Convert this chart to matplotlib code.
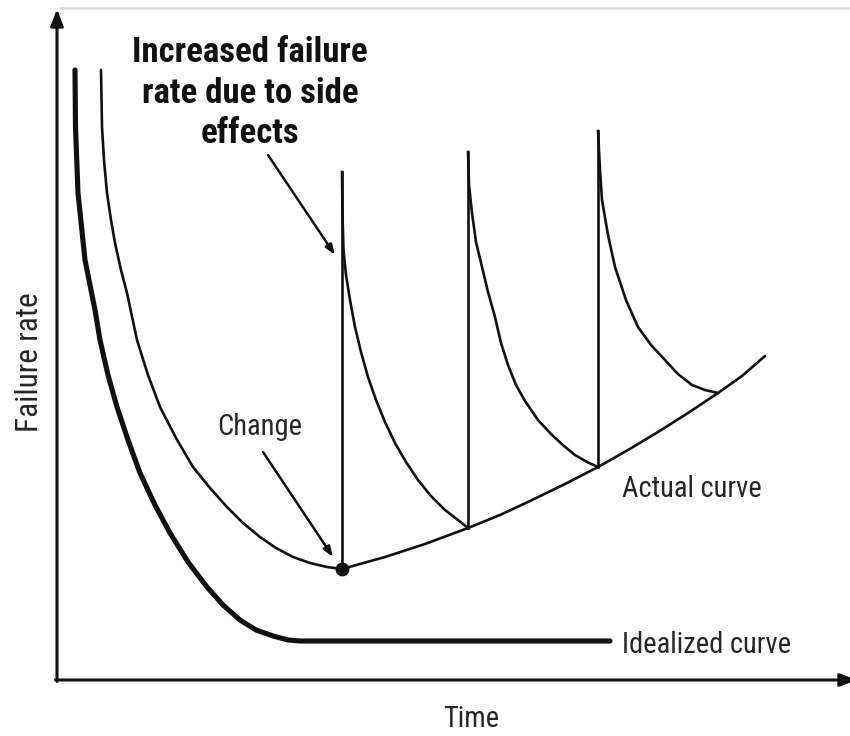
import matplotlib
matplotlib.use("Agg")
import matplotlib.pyplot as plt
from matplotlib import font_manager as fm

# ---- data: time (x) and failure rate (y) in arbitrary units ----
ideal_t = [18, 18.5, 21, 28, 38, 43, 51, 60, 71, 83, 98, 113, 131, 150, 166, 183, 199, 216, 231, 243, 553]
ideal_r = [610, 553, 487, 420, 370, 340, 305, 273, 240, 207, 175, 147, 118, 93, 75, 60, 50, 44, 40, 39, 39]

early_t = [44, 45, 47, 50, 54, 58, 64, 70, 80, 91, 103, 119, 136, 153, 170, 186, 203, 219, 236, 253, 270, 285]
early_r = [610, 553, 520, 487, 460, 437, 410, 387, 340, 305, 273, 242, 213, 192, 173, 157, 143, 132, 123, 117, 113, 111]

base_t = [285, 328, 368, 411, 443, 473, 508, 541, 571, 601, 631, 661, 685, 708]
base_r = [111, 123, 136, 152, 165, 179, 196, 213, 230, 248, 267, 287, 304, 324]

change_t = [285, 411, 541]
spike_bottom = [111, 152, 213]
spike_top = [508, 528, 549]

decay1_t = [285, 285.5, 286.5, 289, 293, 298, 304, 311, 319, 328, 338, 349, 361, 374, 388, 401, 411]
decay1_r = [508, 465, 430, 405, 380, 353, 328, 303, 280, 258, 237, 218, 200, 184, 170, 160, 152]
decay2_t = [411, 412, 415, 419, 425, 431, 438, 444, 451, 459, 468, 481, 495, 507, 518, 530, 541]
decay2_r = [528, 495, 467, 438, 413, 388, 363, 337, 315, 295, 279, 260, 245, 234, 225, 218, 213]
decay3_t = [541, 543, 545, 551, 558, 569, 581, 594, 608, 621, 635, 648, 661]
decay3_r = [549, 510, 480, 445, 413, 380, 353, 335, 320, 306, 295, 290, 287]

title_lines = ["Increased failure", "rate due to side", "effects"]
label_change = "Change"
label_actual = "Actual curve"
label_ideal = "Idealized curve"
xlabel = "Time"
ylabel = "Failure rate"

# ---- pick a narrow sans family if one is installed ----
candidates = [('Liberation Sans Narrow', 'normal'), ('Roboto Condensed', 'normal'),
              ('Open Sans Condensed', 'normal'), ('DejaVu Sans', 'condensed'),
              ('Roboto', 'condensed'), ('Open Sans', 'condensed')]
chosen = None
for fam, st in candidates:
    try:
        p = fm.findfont(fm.FontProperties(family=fam, stretch=st), fallback_to_default=False)
    except Exception:
        continue
    if st == 'normal' or 'ondensed' in p or 'arrow' in p:
        chosen = (fam, st)
        break
if chosen is None:
    chosen = ('Roboto', 'normal')
family, stretch = chosen
plt.rcParams['font.family'] = [family, 'DejaVu Sans']

# ---- drawing ----
fig = plt.figure(figsize=(8.5, 7.36), dpi=100)
ax = fig.add_axes([57 / 850, 56 / 736, 788 / 850, 665 / 736])
ax.set_xlim(0, 788)
ax.set_ylim(0, 665)
ax.axis('off')

ink = '#111111'
txt = '#262626'

# screenshot border line at top
ax.plot([3, 800], [672, 672], color='#d9d9d9', lw=1.8, clip_on=False)

# axis arrows
head = '-|>,head_length=1.0,head_width=0.38'
ax.annotate('', xy=(0, 671), xytext=(0, -1.5),
            arrowprops=dict(arrowstyle=head, lw=2.2, color=ink, shrinkA=0, shrinkB=0),
            annotation_clip=False)
ax.annotate('', xy=(800, 0), xytext=(-1.5, 0),
            arrowprops=dict(arrowstyle=head, lw=2.2, color=ink, shrinkA=0, shrinkB=0),
            annotation_clip=False)

# idealized curve
ax.plot(ideal_t, ideal_r, color=ink, lw=3.7, solid_capstyle='round', solid_joinstyle='round', clip_on=False)

# actual curve
lw = 1.9
ax.plot(early_t, early_r, color=ink, lw=lw, solid_joinstyle='round', solid_capstyle='round', clip_on=False)
ax.plot(base_t, base_r, color=ink, lw=lw, solid_joinstyle='round', solid_capstyle='round', clip_on=False)
for t, lo, hi in zip(change_t, spike_bottom, spike_top):
    ax.plot([t, t], [lo, hi], color=ink, lw=lw, clip_on=False)
for dt, dr in ((decay1_t, decay1_r), (decay2_t, decay2_r), (decay3_t, decay3_r)):
    ax.plot(dt, dr, color=ink, lw=lw, solid_joinstyle='round', clip_on=False)

ax.plot([change_t[0]], [spike_bottom[0]], 'o', color=ink, markersize=9, clip_on=False)

# annotations
small_head = '-|>,head_length=0.6,head_width=0.22'
ax.annotate('', xy=(278, 425), xytext=(211, 525),
            arrowprops=dict(arrowstyle=small_head, lw=1.8, color=ink, shrinkA=0, shrinkB=0))
ax.annotate('', xy=(276, 123), xytext=(206, 228),
            arrowprops=dict(arrowstyle=small_head, lw=1.8, color=ink, shrinkA=0, shrinkB=0))

kw = dict(fontstretch=stretch)
title_arts = []
for line, yb in zip(title_lines, [618, 577, 537]):
    title_arts.append(ax.text(193, yb, line, ha='center', va='baseline', fontsize=24,
                              fontweight='bold', color='#111111', **kw))
t_change = ax.text(203, 245, label_change, ha='center', va='baseline', fontsize=20, color=txt, **kw)
t_actual = ax.text(565, 183, label_actual, ha='left', va='baseline', fontsize=20, color=txt, **kw)
t_ideal = ax.text(565, 27, label_ideal, ha='left', va='baseline', fontsize=20, color=txt, **kw)
t_time = ax.text(414, -47, xlabel, ha='center', va='baseline', fontsize=20, color=txt, **kw)
t_fail = ax.text(-28, 318, ylabel, ha='center', va='center', fontsize=20, color=txt,
                 rotation=90, **kw)

# fit text sizes to the widths seen in the reference
fig.canvas.draw()
r = fig.canvas.get_renderer()

def fit(art, target, vertical=False, boost=1.0):
    bb = art.get_window_extent(r)
    size = bb.height if vertical else bb.width
    return art.get_fontsize() * target / size * boost

fs_title = fit(title_arts[0], 236)
for a in title_arts:
    a.set_fontsize(fs_title)
fs_lab = (fit(t_actual, 126) + fit(t_ideal, 158) + fit(t_change, 80)) / 3 * 1.08
for a in (t_change, t_actual, t_ideal, t_time):
    a.set_fontsize(fs_lab)
t_fail.set_fontsize(fit(t_fail, 139, vertical=True))

fig.savefig('out.png', dpi=100, facecolor='white')
